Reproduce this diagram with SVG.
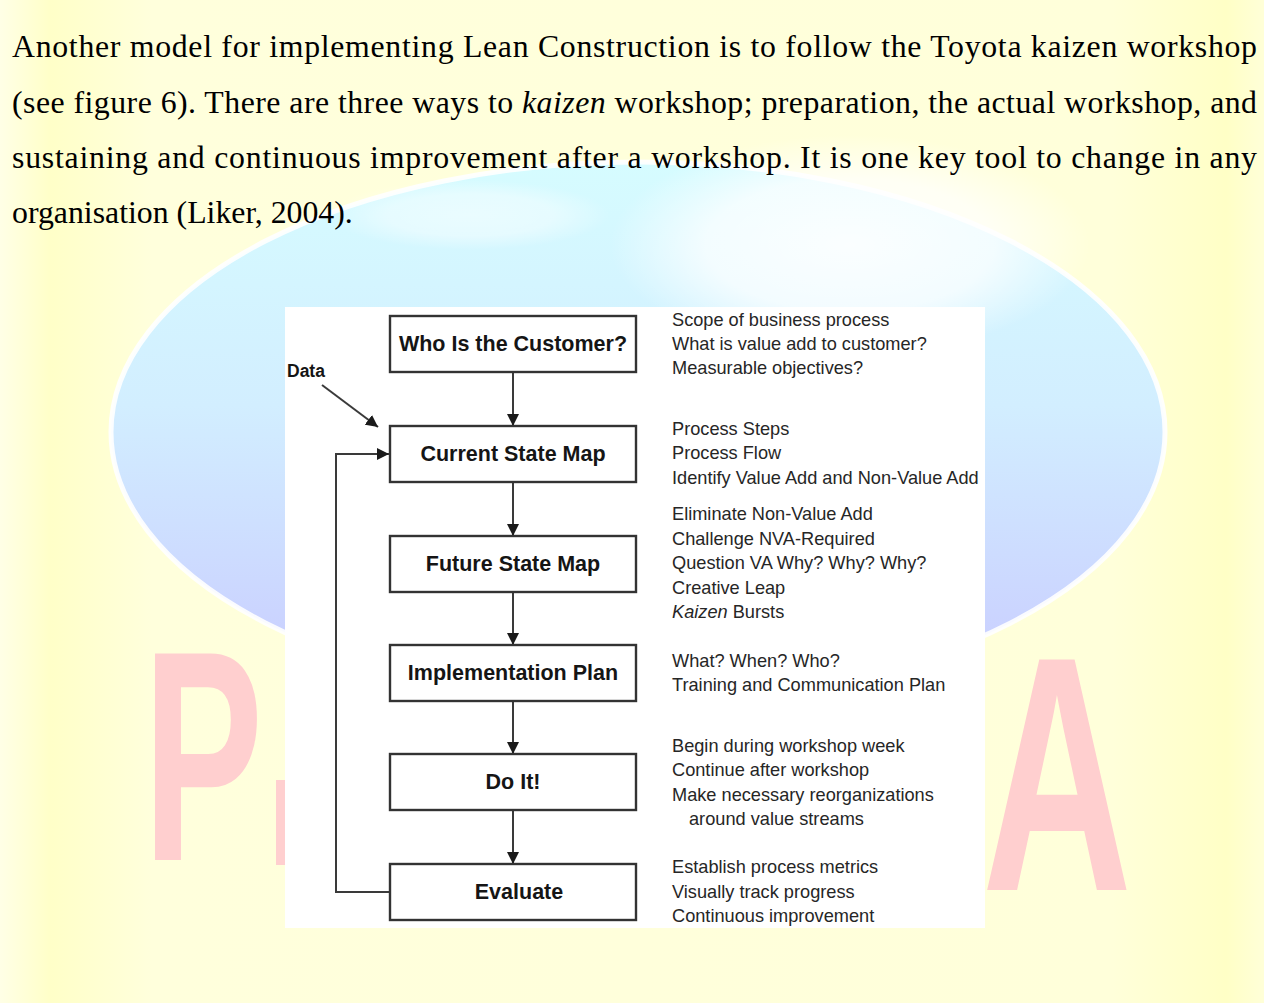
<svg xmlns="http://www.w3.org/2000/svg" width="1264" height="1003" viewBox="0 0 1264 1003">
<defs>
<linearGradient id="bg" x1="0" y1="0" x2="1" y2="0">
<stop offset="0" stop-color="#FFFFE6"/>
<stop offset="0.04" stop-color="#FFFFC8"/>
<stop offset="0.12" stop-color="#FFFFDC"/>
<stop offset="0.88" stop-color="#FFFFDA"/>
<stop offset="0.97" stop-color="#FFFFC6"/>
<stop offset="1" stop-color="#FFFFD8"/>
</linearGradient>
<linearGradient id="globe" x1="0" y1="0" x2="0" y2="1">
<stop offset="0" stop-color="#D6FCFF"/>
<stop offset="0.45" stop-color="#D2EEFF"/>
<stop offset="1" stop-color="#C8CAFF"/>
</linearGradient>
<radialGradient id="hl" cx="0.5" cy="0.5" r="0.5">
<stop offset="0" stop-color="#FFFFFF" stop-opacity="1"/>
<stop offset="0.6" stop-color="#FFFFFF" stop-opacity="0.8"/>
<stop offset="1" stop-color="#FFFFFF" stop-opacity="0"/>
</radialGradient>
<marker id="ah" viewBox="0 0 12 12" refX="12" refY="6" markerWidth="12" markerHeight="12" markerUnits="userSpaceOnUse" orient="auto">
<path d="M0,0 L12,6 L0,12 Z" fill="#1a1a1a"/>
</marker>
<style>
.para{font-family:"Liberation Serif","Times New Roman",serif;font-size:31.8px;fill:#000}
.box{fill:#fff;stroke:#333;stroke-width:2.4}
.lbl{font-family:"Liberation Sans",Arial,sans-serif;font-weight:bold;font-size:21.5px;fill:#151515;text-anchor:middle}
.note{font-family:"Liberation Sans",Arial,sans-serif;font-size:18.2px;fill:#262626}
.conn{stroke:#3a3a3a;stroke-width:2;fill:none}
.wm{font-family:"Liberation Sans",Arial,sans-serif;font-weight:bold;fill:#FFCFCF}
</style>
</defs>
<!-- background watermark -->
<rect x="0" y="0" width="1264" height="1003" fill="url(#bg)"/>
<ellipse cx="638" cy="432" rx="527" ry="270" fill="url(#globe)" stroke="#FFFFFF" stroke-width="5" stroke-opacity="0.9"/>
<ellipse cx="850" cy="245" rx="240" ry="110" fill="url(#hl)" opacity="0.9"/>
<ellipse cx="470" cy="215" rx="140" ry="35" fill="url(#hl)" opacity="0.5"/>
<text class="wm" font-size="300" transform="translate(143,860) scale(0.6,1)">P</text>
<text class="wm" font-size="335" transform="translate(982,890) scale(0.62,1)">A</text>
<rect x="276" y="780" width="10" height="85" fill="#FFCFCF"/>
<!-- paragraph -->
<g id="paragraph">
<text class="para" x="12" y="57" textLength="1245" lengthAdjust="spacing">Another model for implementing Lean Construction is to follow the Toyota kaizen workshop</text>
<text class="para" x="12" y="113" textLength="1245" lengthAdjust="spacing">(see figure 6). There are three ways to <tspan font-style="italic">kaizen</tspan> workshop; preparation, the actual workshop, and</text>
<text class="para" x="12" y="168" textLength="1245" lengthAdjust="spacing">sustaining and continuous improvement after a workshop. It is one key tool to change in any</text>
<text class="para" x="12" y="223">organisation (Liker, 2004).</text>
</g>
<!-- figure panel -->
<rect x="285" y="307" width="700" height="621" fill="#FFFFFF"/>
<g id="connectors">
<line class="conn" x1="513" y1="372" x2="513" y2="426" marker-end="url(#ah)"/>
<line class="conn" x1="513" y1="482" x2="513" y2="536" marker-end="url(#ah)"/>
<line class="conn" x1="513" y1="592" x2="513" y2="645" marker-end="url(#ah)"/>
<line class="conn" x1="513" y1="701" x2="513" y2="754" marker-end="url(#ah)"/>
<line class="conn" x1="513" y1="810" x2="513" y2="864" marker-end="url(#ah)"/>
<polyline class="conn" points="389,892 336,892 336,454 389,454" marker-end="url(#ah)"/>
<line class="conn" x1="322" y1="385" x2="378" y2="427" marker-end="url(#ah)"/>
</g>
<g id="data-label">
<text x="287" y="377" font-family="Liberation Sans,Arial,sans-serif" font-weight="bold" font-size="17.5" fill="#151515">Data</text>
</g>
<g id="node-customer">
<rect class="box" x="390" y="316" width="246" height="56"/>
<text class="lbl" x="513" y="351">Who Is the Customer?</text>
</g>
<g id="node-current">
<rect class="box" x="390" y="426" width="246" height="56"/>
<text class="lbl" x="513" y="461">Current State Map</text>
</g>
<g id="node-future">
<rect class="box" x="390" y="536" width="246" height="56"/>
<text class="lbl" x="513" y="571">Future State Map</text>
</g>
<g id="node-plan">
<rect class="box" x="390" y="645" width="246" height="56"/>
<text class="lbl" x="513" y="680">Implementation Plan</text>
</g>
<g id="node-doit">
<rect class="box" x="390" y="754" width="246" height="56"/>
<text class="lbl" x="513" y="789">Do It!</text>
</g>
<g id="node-evaluate">
<rect class="box" x="390" y="864" width="246" height="56"/>
<text class="lbl" x="519" y="899">Evaluate</text>
</g>
<g id="notes">
<text class="note" x="672" y="326">Scope of business process</text>
<text class="note" x="672" y="350">What is value add to customer?</text>
<text class="note" x="672" y="374">Measurable objectives?</text>
<text class="note" x="672" y="435">Process Steps</text>
<text class="note" x="672" y="459">Process Flow</text>
<text class="note" x="672" y="484">Identify Value Add and Non-Value Add</text>
<text class="note" x="672" y="520">Eliminate Non-Value Add</text>
<text class="note" x="672" y="545">Challenge NVA-Required</text>
<text class="note" x="672" y="569">Question VA Why? Why? Why?</text>
<text class="note" x="672" y="594">Creative Leap</text>
<text class="note" x="672" y="618"><tspan font-style="italic">Kaizen</tspan> Bursts</text>
<text class="note" x="672" y="667">What? When? Who?</text>
<text class="note" x="672" y="691">Training and Communication Plan</text>
<text class="note" x="672" y="752">Begin during workshop week</text>
<text class="note" x="672" y="776">Continue after workshop</text>
<text class="note" x="672" y="801">Make necessary reorganizations</text>
<text class="note" x="689" y="825">around value streams</text>
<text class="note" x="672" y="873">Establish process metrics</text>
<text class="note" x="672" y="898">Visually track progress</text>
<text class="note" x="672" y="922">Continuous improvement</text>
</g>
</svg>
